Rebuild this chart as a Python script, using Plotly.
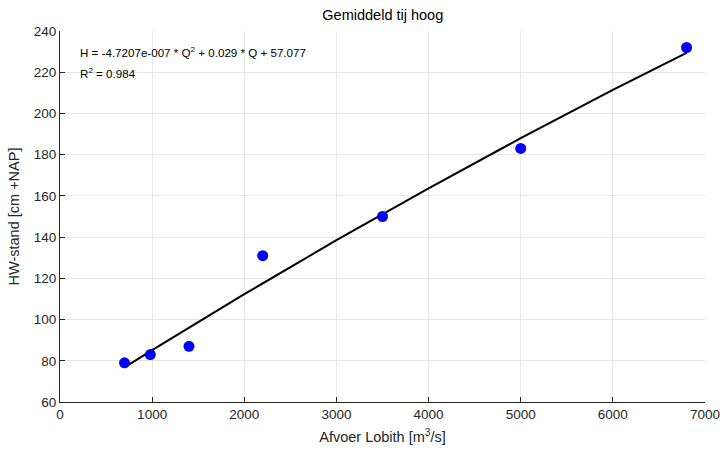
import plotly.graph_objects as go

# Measured data
afvoer = [700, 980, 1400, 2200, 3500, 5000, 6800]
hw_stand = [79, 83, 87, 131, 150, 183, 232]

# Fitted curve
fit_q = [700, 1000, 2000, 3000, 4000, 5000, 6000, 6800]
fit_h = [76.8, 85.2, 112.3, 138.5, 163.7, 188.0, 211.4, 229.4]

x_ticks = [0, 1000, 2000, 3000, 4000, 5000, 6000, 7000]
y_ticks = [60, 80, 100, 120, 140, 160, 180, 200, 220, 240]

font = "Liberation Sans, Arial, sans-serif"
dark = "#262626"

L, R, T, B = 60, 20, 31, 50

fig = go.Figure()
fig.add_trace(go.Scatter(x=fit_q, y=fit_h, mode="lines",
                         line=dict(color="black", width=2), showlegend=False))
fig.add_trace(go.Scatter(x=afvoer, y=hw_stand, mode="markers",
                         marker=dict(color="#0000ff", size=11), showlegend=False))

fig.update_layout(
    width=725, height=452,
    margin=dict(l=L, r=R, t=T, b=B, autoexpand=False),
    paper_bgcolor="white", plot_bgcolor="white",
    font=dict(family=font, size=13.5, color=dark),
    title=dict(text="Gemiddeld tij hoog", x=0.528, xanchor="center",
               y=0.966, yanchor="middle", font=dict(size=14.5, color="#000000")),
    xaxis=dict(range=[0, 7000], tickvals=x_ticks, ticks="inside", ticklen=5,
               tickcolor=dark, showline=True, linecolor=dark, linewidth=1,
               showgrid=True, gridcolor="#e6e6e6", zeroline=False, automargin=False,
               tickfont=dict(size=13.5),
               title=dict(text="Afvoer Lobith [m<sup>3</sup>/s]", standoff=10,
                          font=dict(size=14.5, color=dark))),
    yaxis=dict(range=[60, 240], tickvals=y_ticks, ticks="inside", ticklen=5,
               tickcolor=dark, showline=True, linecolor=dark, linewidth=1,
               showgrid=True, gridcolor="#e6e6e6", zeroline=False, automargin=False,
               tickfont=dict(size=13.5),
               title=dict(text="HW-stand [cm +NAP]", standoff=10,
                          font=dict(size=14.5, color=dark))),
)

# annotations placed at pixel positions converted to paper coords
pw, ph = 725 - L - R, 452 - T - B
def px(x, y):
    return (x - L) / pw, 1 - (y - T) / ph

ax1, ay1 = px(78, 52)
ax2, ay2 = px(78, 73)
fig.add_annotation(text="H = -4.7207e-007 * Q<sup>2</sup> + 0.029 * Q + 57.077",
                   x=ax1, y=ay1, xref="paper", yref="paper", showarrow=False,
                   xanchor="left", yanchor="middle", font=dict(size=11.6, color="black"))
fig.add_annotation(text="R<sup>2</sup> = 0.984",
                   x=ax2, y=ay2, xref="paper", yref="paper", showarrow=False,
                   xanchor="left", yanchor="middle", font=dict(size=11.6, color="black"))

fig.write_html("out.html")
